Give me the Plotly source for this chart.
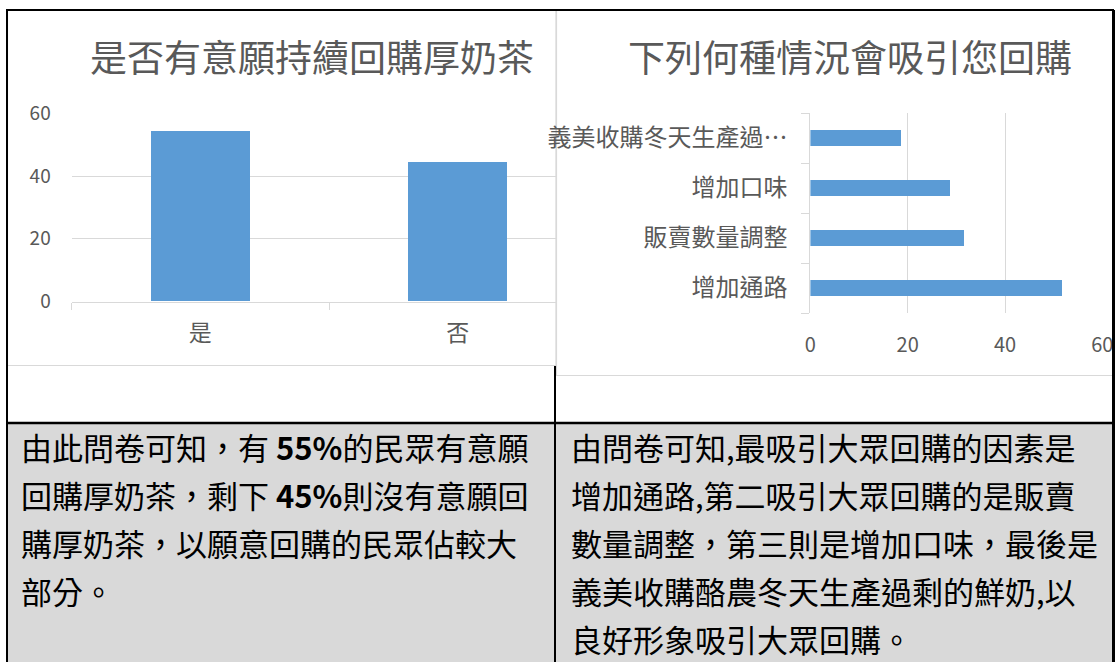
import plotly.graph_objects as go

# ---------------- data ----------------
left_title = "是否有意願持續回購厚奶茶"
left_categories = ["是", "否"]
left_values = [54.4, 44.4]
left_yticks = [0, 20, 40, 60]

right_title = "下列何種情況會吸引您回購"
right_categories = ["增加通路", "販賣數量調整", "增加口味", "義美收購冬天生產過…"]
right_values = [51.7, 31.6, 28.7, 18.7]
right_xticks = [0, 20, 40, 60]

left_text_lines = [
    "由此問卷可知，有 <b>55%</b>的民眾有意願",
    "回購厚奶茶，剩下 <b>45%</b>則沒有意願回",
    "購厚奶茶，以願意回購的民眾佔較大",
    "部分。",
]
right_text_lines = [
    "由問卷可知,最吸引大眾回購的因素是",
    "增加通路,第二吸引大眾回購的是販賣",
    "數量調整，第三則是增加口味，最後是",
    "義美收購酪農冬天生產過剩的鮮奶,以",
    "良好形象吸引大眾回購。",
]

# ---------------- layout helpers ----------------
W, H = 1115, 662
FONT = "Noto Sans CJK TC"
BAR = "#5b9bd5"
GRID = "#d9d9d9"
TXT = "#595959"


def xp(x):
    return x / W


def yp(y):
    return 1 - y / H


fig = go.Figure()

fig.add_trace(go.Bar(
    x=left_categories, y=left_values, marker=dict(color=BAR, line=dict(width=0)),
    width=0.385, xaxis="x", yaxis="y", hoverinfo="skip", showlegend=False,
))
fig.add_trace(go.Bar(
    y=right_categories, x=right_values, orientation="h",
    marker=dict(color=BAR, line=dict(width=0)),
    width=0.32, xaxis="x2", yaxis="y2", hoverinfo="skip", showlegend=False,
))

cat_w = 257.3
left_x0, left_x1 = 71.7, 556

fig.update_layout(
    template="none",
    width=W, height=H,
    margin=dict(l=0, r=0, t=0, b=0, pad=0, autoexpand=False),
    paper_bgcolor="white", plot_bgcolor="rgba(0,0,0,0)",
    font=dict(family=FONT, color=TXT),
    showlegend=False,
    bargap=0,
    xaxis=dict(
        domain=[xp(left_x0), xp(left_x1)], anchor="y", type="category", automargin=False,
        range=[-0.5, -0.5 + (left_x1 - left_x0) / cat_w],
        showgrid=False, zeroline=False, showline=True, linecolor=GRID, linewidth=1,
        ticks="outside", tickson="boundaries", ticklen=7, tickcolor=GRID,
        tickfont=dict(size=23, color=TXT, family=FONT), ticklabelstandoff=11,
    ),
    yaxis=dict(
        domain=[yp(301.5), yp(113.3)], anchor="x", range=[0, 60], automargin=False,
        tickvals=left_yticks, showgrid=True, gridcolor=GRID, gridwidth=1,
        zeroline=False, showline=False, ticks="",
        tickfont=dict(size=19, color=TXT, family=FONT), ticklabelstandoff=20,
    ),
    xaxis2=dict(
        domain=[xp(810.4), xp(1102.3)], anchor="y2", range=[0, 60], automargin=False,
        tickvals=right_xticks, showgrid=True, gridcolor=GRID, gridwidth=1,
        zeroline=False, showline=False, ticks="",
        tickfont=dict(size=20, color=TXT, family=FONT), ticklabelstandoff=18,
    ),
    yaxis2=dict(
        domain=[yp(313), yp(113)], anchor="x2", type="category", automargin=False,
        range=[-0.5, 3.5], categoryorder="array", categoryarray=right_categories,
        showgrid=False, zeroline=False, showline=True, linecolor=GRID, linewidth=1,
        ticks="outside", tickson="boundaries", ticklen=8, tickcolor=GRID,
        tickfont=dict(size=24, color=TXT, family=FONT), ticklabelstandoff=17,
    ),
)

shapes = []
# gray bottom row
shapes.append(dict(type="rect", xref="paper", yref="paper",
                   x0=xp(7), x1=xp(1113), y0=yp(662), y1=yp(423),
                   fillcolor="#d9d9d9", line=dict(width=0), layer="below"))
# chart borders
shapes.append(dict(type="rect", xref="paper", yref="paper",
                   x0=xp(7.5), x1=xp(556), y0=yp(365.5), y1=yp(10),
                   line=dict(color=GRID, width=1.2), layer="below"))
shapes.append(dict(type="rect", xref="paper", yref="paper",
                   x0=xp(556.5), x1=xp(1113), y0=yp(375.5), y1=yp(10),
                   line=dict(color=GRID, width=1.2), layer="below"))


def line(x0, y0, x1, y1, w=2):
    return dict(type="line", xref="paper", yref="paper",
                x0=xp(x0), x1=xp(x1), y0=yp(y0), y1=yp(y1),
                line=dict(color="black", width=w), layer="above")


shapes += [
    line(6, 10, 1114, 10),
    line(7, 10, 7, 662),
    line(1113.5, 10, 1113.5, 662, 3),
    line(555, 366, 555, 662),
    line(6, 423, 1114, 423, 2.5),
]
fig.update_layout(shapes=shapes)

annotations = [
    dict(text=left_title, x=xp(312), y=yp(56), xref="paper", yref="paper",
         showarrow=False, xanchor="center", yanchor="middle",
         font=dict(size=37, color=TXT, family=FONT)),
    dict(text=right_title, x=xp(850), y=yp(56), xref="paper", yref="paper",
         showarrow=False, xanchor="center", yanchor="middle",
         font=dict(size=37, color=TXT, family=FONT)),
]

line_y = [446, 494, 542, 590, 638]
for i, t in enumerate(left_text_lines):
    annotations.append(dict(text=t, x=xp(19), y=yp(line_y[i]), xref="paper", yref="paper",
                            showarrow=False, xanchor="left", yanchor="middle",
                            font=dict(size=31, color="black", family=FONT)))
for i, t in enumerate(right_text_lines):
    annotations.append(dict(text=t, x=xp(569), y=yp(line_y[i]), xref="paper", yref="paper",
                            showarrow=False, xanchor="left", yanchor="middle",
                            font=dict(size=31, color="black", family=FONT)))
fig.update_layout(annotations=annotations)

fig.write_html(
    "out.html",
    config={"displayModeBar": False},
    post_script="document.body.style.margin='0';document.body.style.overflow='hidden';",
)
